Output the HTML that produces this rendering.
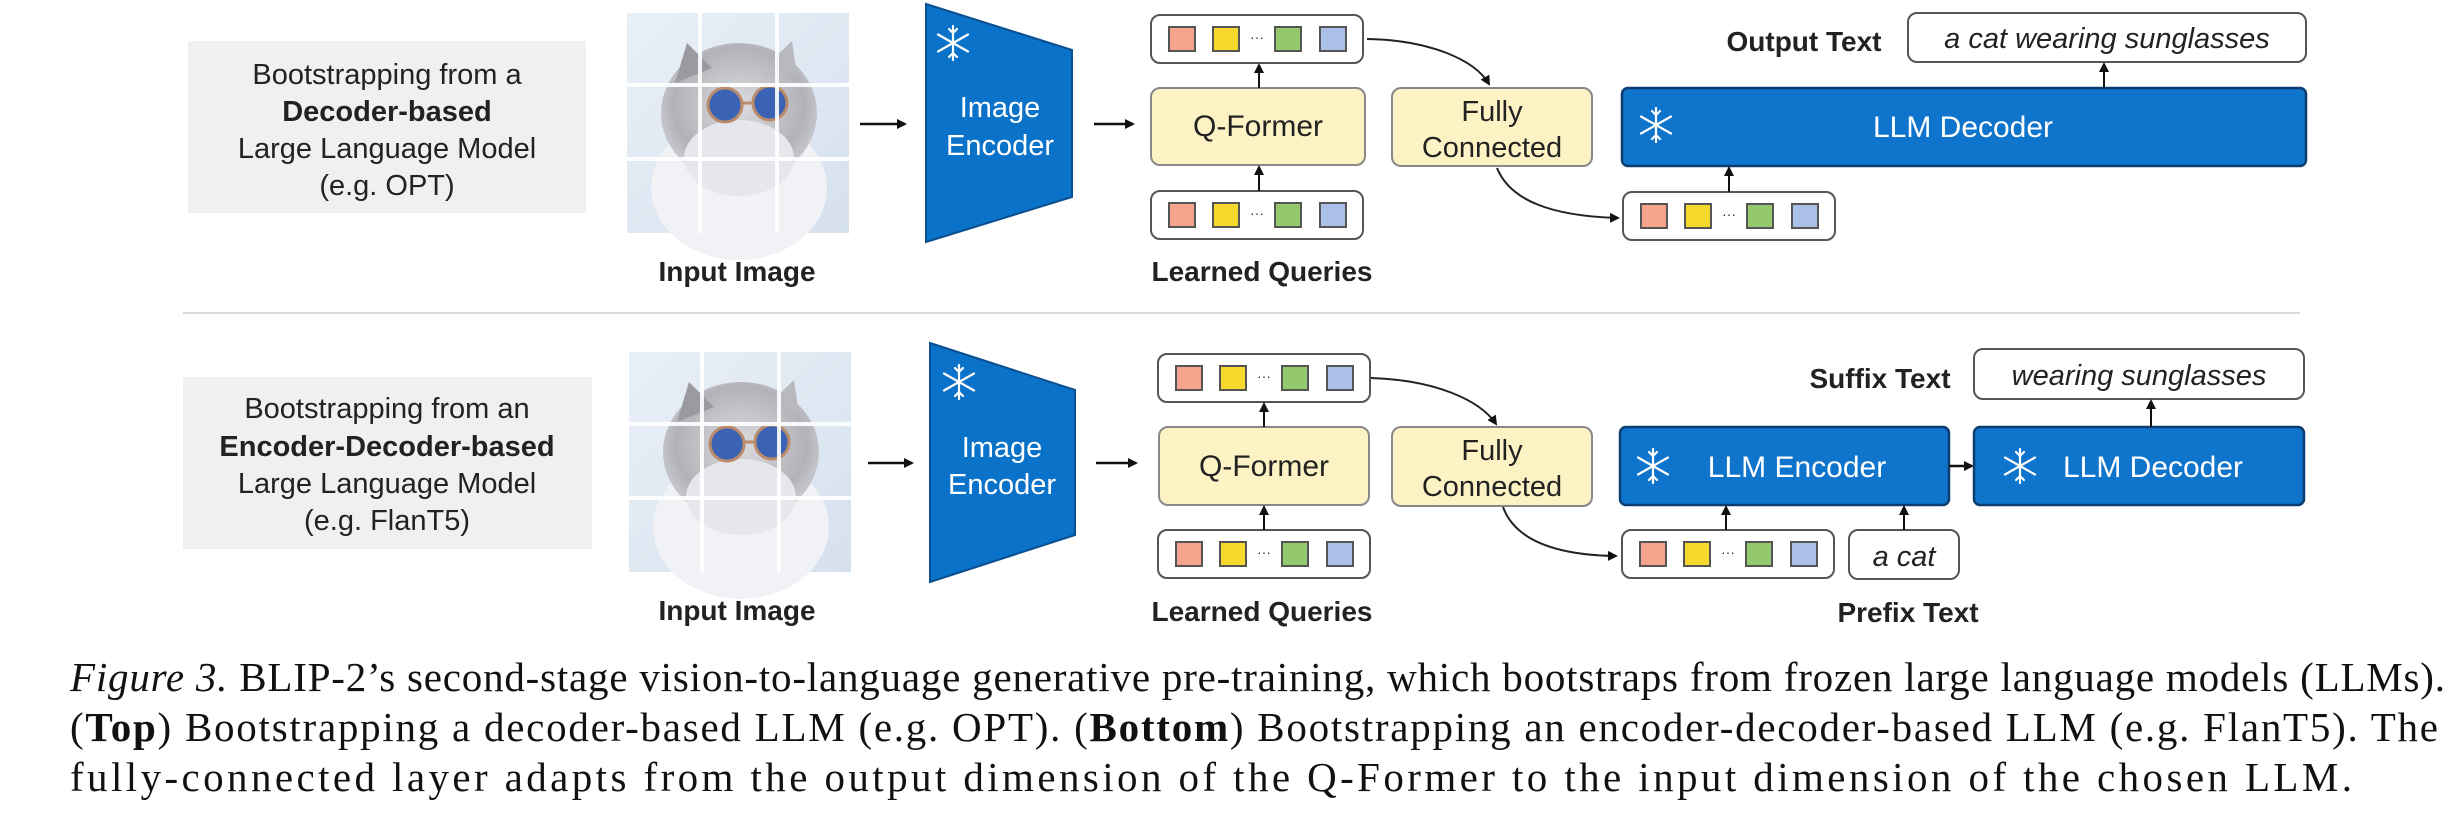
<!DOCTYPE html>
<html><head><meta charset="utf-8"><style>
html,body{margin:0;padding:0;background:#fff;width:2458px;height:836px;overflow:hidden}
svg{display:block}
.s{font-family:"Liberation Sans",Arial,sans-serif}
.r{font-family:"Liberation Serif","Times New Roman",serif}
</style></head><body>
<svg width="2458" height="836" viewBox="0 0 2458 836" xmlns="http://www.w3.org/2000/svg">
<defs>
<marker id="ah" markerWidth="10" markerHeight="10" refX="8" refY="5" orient="auto" markerUnits="userSpaceOnUse">
<path d="M0,0 L10,5 L0,10 z" fill="#111"/></marker>
<linearGradient id="bg" x1="0" y1="0" x2="1" y2="1"><stop offset="0" stop-color="#e9eff7"/><stop offset="1" stop-color="#d6e1ee"/></linearGradient>
<radialGradient id="fur" cx="0.5" cy="0.45" r="0.6"><stop offset="0" stop-color="#dcdce0"/><stop offset="0.7" stop-color="#b2b2b8"/><stop offset="1" stop-color="#d5d8de"/></radialGradient>
<g id="cat">
<rect x="0" y="0" width="222" height="220" fill="url(#bg)"/>
<ellipse cx="112" cy="175" rx="88" ry="72" fill="#f1f2f6"/>
<ellipse cx="112" cy="100" rx="78" ry="70" fill="url(#fur)"/>
<path d="M48 70 L60 30 L85 55 Z" fill="#9a9aa0"/>
<path d="M170 62 L165 28 L142 50 Z" fill="#b8b8be"/>
<ellipse cx="112" cy="145" rx="55" ry="38" fill="#e6e7ec"/>
<circle cx="98" cy="92" r="17" fill="#3b63b5" stroke="#b98b6a" stroke-width="3"/>
<circle cx="143" cy="90" r="17" fill="#3b63b5" stroke="#b98b6a" stroke-width="3"/>
<line x1="115" y1="90" x2="126" y2="90" stroke="#b98b6a" stroke-width="3"/>
<rect x="71" y="0" width="4" height="220" fill="#fff" opacity="0.9"/>
<rect x="148" y="0" width="4" height="220" fill="#fff" opacity="0.9"/>
<rect x="0" y="70" width="222" height="4" fill="#fff" opacity="0.9"/>
<rect x="0" y="144" width="222" height="4" fill="#fff" opacity="0.9"/>
</g>
<g id="tok">
<rect x="0" y="0" width="212" height="48" rx="9" fill="#fff" stroke="#555" stroke-width="2"/>
<rect x="18" y="12" width="26" height="24" fill="#f5a58e" stroke="#555" stroke-width="2"/>
<rect x="62" y="12" width="26" height="24" fill="#f6d92c" stroke="#555" stroke-width="2"/>
<text x="106" y="27" class="s" font-size="14" fill="#333" text-anchor="middle">···</text>
<rect x="124" y="12" width="26" height="24" fill="#94c86c" stroke="#555" stroke-width="2"/>
<rect x="169" y="12" width="26" height="24" fill="#abc0e8" stroke="#555" stroke-width="2"/>
</g>
<g id="snow" stroke="#fff" stroke-width="2.2" fill="none" stroke-linecap="round">
<line x1="0" y1="-17" x2="0" y2="17"/><line x1="-15" y1="-8.5" x2="15" y2="8.5"/><line x1="-15" y1="8.5" x2="15" y2="-8.5"/>
<path d="M-4,-14 L0,-10 L4,-14 M-4,14 L0,10 L4,14"/>
</g>
</defs>

<!-- ================= TOP ROW ================= -->
<rect x="188" y="41" width="398" height="172" fill="#f1f0f1"/>
<g class="s" font-size="29" fill="#222" text-anchor="middle">
<text x="387" y="84">Bootstrapping from a</text>
<text x="387" y="121" font-weight="bold">Decoder-based</text>
<text x="387" y="158">Large Language Model</text>
<text x="387" y="195">(e.g. OPT)</text>
</g>
<use href="#cat" x="627" y="13"/>
<text x="737" y="281" class="s" font-size="28" font-weight="bold" fill="#222" text-anchor="middle">Input Image</text>
<line x1="860" y1="124" x2="905" y2="124" stroke="#111" stroke-width="2.5" marker-end="url(#ah)"/>
<polygon points="926,4 1072,50 1072,197 926,242" fill="#0b72c9" stroke="#0a4f8f" stroke-width="2"/>
<use href="#snow" x="953" y="43"/>
<text x="1000" y="117" class="s" font-size="29" fill="#fff" text-anchor="middle">Image</text>
<text x="1000" y="155" class="s" font-size="29" fill="#fff" text-anchor="middle">Encoder</text>
<line x1="1094" y1="124" x2="1133" y2="124" stroke="#111" stroke-width="2.5" marker-end="url(#ah)"/>
<use href="#tok" x="1151" y="15"/>
<rect x="1151" y="88" width="214" height="77" rx="9" fill="#fcf2c4" stroke="#888" stroke-width="2"/>
<text x="1258" y="136" class="s" font-size="30" fill="#222" text-anchor="middle">Q-Former</text>
<use href="#tok" x="1151" y="191"/>
<line x1="1259" y1="88" x2="1259" y2="65" stroke="#111" stroke-width="2" marker-end="url(#ah)"/>
<line x1="1259" y1="191" x2="1259" y2="167" stroke="#111" stroke-width="2" marker-end="url(#ah)"/>
<text x="1262" y="281" class="s" font-size="28" font-weight="bold" fill="#222" text-anchor="middle">Learned Queries</text>
<rect x="1392" y="88" width="200" height="78" rx="9" fill="#fcf2c4" stroke="#888" stroke-width="2"/>
<text x="1492" y="121" class="s" font-size="29" fill="#222" text-anchor="middle">Fully</text>
<text x="1492" y="157" class="s" font-size="29" fill="#222" text-anchor="middle">Connected</text>
<path d="M1367,39 C1430,40 1475,60 1489,84" fill="none" stroke="#222" stroke-width="2" marker-end="url(#ah)"/>
<path d="M1497,168 C1510,200 1550,216 1618,218" fill="none" stroke="#222" stroke-width="2" marker-end="url(#ah)"/>
<rect x="1622" y="88" width="684" height="78" rx="6" fill="#0f74cc" stroke="#0b3d70" stroke-width="2.5"/>
<use href="#snow" x="1656" y="125"/>
<text x="1963" y="137" class="s" font-size="30" fill="#fff" text-anchor="middle">LLM Decoder</text>
<use href="#tok" x="1623" y="192"/>
<line x1="1729" y1="192" x2="1729" y2="168" stroke="#111" stroke-width="2" marker-end="url(#ah)"/>
<text x="1804" y="51" class="s" font-size="28" font-weight="bold" fill="#222" text-anchor="middle">Output Text</text>
<rect x="1908" y="13" width="398" height="49" rx="9" fill="#fff" stroke="#555" stroke-width="2"/>
<text x="2107" y="48" class="s" font-size="29" font-style="italic" fill="#222" text-anchor="middle">a cat wearing sunglasses</text>
<line x1="2104" y1="88" x2="2104" y2="64" stroke="#111" stroke-width="2" marker-end="url(#ah)"/>

<line x1="183" y1="313" x2="2300" y2="313" stroke="#ddd" stroke-width="2"/>

<!-- ================= BOTTOM ROW ================= -->
<rect x="183" y="377" width="409" height="172" fill="#f1f0f1"/>
<g class="s" font-size="29" fill="#222" text-anchor="middle">
<text x="387" y="418">Bootstrapping from an</text>
<text x="387" y="456" font-weight="bold">Encoder-Decoder-based</text>
<text x="387" y="493">Large Language Model</text>
<text x="387" y="530">(e.g. FlanT5)</text>
</g>
<use href="#cat" x="629" y="352"/>
<text x="737" y="620" class="s" font-size="28" font-weight="bold" fill="#222" text-anchor="middle">Input Image</text>
<line x1="868" y1="463" x2="912" y2="463" stroke="#111" stroke-width="2.5" marker-end="url(#ah)"/>
<polygon points="930,343 1075,390 1075,535 930,582" fill="#0b72c9" stroke="#0a4f8f" stroke-width="2"/>
<use href="#snow" x="959" y="382"/>
<text x="1002" y="457" class="s" font-size="29" fill="#fff" text-anchor="middle">Image</text>
<text x="1002" y="494" class="s" font-size="29" fill="#fff" text-anchor="middle">Encoder</text>
<line x1="1096" y1="463" x2="1136" y2="463" stroke="#111" stroke-width="2.5" marker-end="url(#ah)"/>
<use href="#tok" x="1158" y="354"/>
<rect x="1159" y="427" width="210" height="78" rx="9" fill="#fcf2c4" stroke="#888" stroke-width="2"/>
<text x="1264" y="476" class="s" font-size="30" fill="#222" text-anchor="middle">Q-Former</text>
<use href="#tok" x="1158" y="530"/>
<line x1="1264" y1="427" x2="1264" y2="404" stroke="#111" stroke-width="2" marker-end="url(#ah)"/>
<line x1="1264" y1="530" x2="1264" y2="507" stroke="#111" stroke-width="2" marker-end="url(#ah)"/>
<text x="1262" y="621" class="s" font-size="28" font-weight="bold" fill="#222" text-anchor="middle">Learned Queries</text>
<rect x="1392" y="427" width="200" height="79" rx="9" fill="#fcf2c4" stroke="#888" stroke-width="2"/>
<text x="1492" y="460" class="s" font-size="29" fill="#222" text-anchor="middle">Fully</text>
<text x="1492" y="496" class="s" font-size="29" fill="#222" text-anchor="middle">Connected</text>
<path d="M1371,378 C1435,380 1480,400 1496,424" fill="none" stroke="#222" stroke-width="2" marker-end="url(#ah)"/>
<path d="M1503,507 C1515,540 1555,555 1616,556" fill="none" stroke="#222" stroke-width="2" marker-end="url(#ah)"/>
<rect x="1620" y="427" width="329" height="78" rx="6" fill="#0f74cc" stroke="#0b3d70" stroke-width="2.5"/>
<use href="#snow" x="1653" y="466"/>
<text x="1797" y="477" class="s" font-size="30" fill="#fff" text-anchor="middle">LLM Encoder</text>
<line x1="1949" y1="466" x2="1972" y2="466" stroke="#111" stroke-width="2.5" marker-end="url(#ah)"/>
<rect x="1974" y="427" width="330" height="78" rx="6" fill="#0f74cc" stroke="#0b3d70" stroke-width="2.5"/>
<use href="#snow" x="2020" y="466"/>
<text x="2153" y="477" class="s" font-size="30" fill="#fff" text-anchor="middle">LLM Decoder</text>
<text x="1880" y="388" class="s" font-size="28" font-weight="bold" fill="#222" text-anchor="middle">Suffix Text</text>
<rect x="1974" y="349" width="330" height="50" rx="9" fill="#fff" stroke="#555" stroke-width="2"/>
<text x="2139" y="385" class="s" font-size="29" font-style="italic" fill="#222" text-anchor="middle">wearing sunglasses</text>
<line x1="2151" y1="427" x2="2151" y2="401" stroke="#111" stroke-width="2" marker-end="url(#ah)"/>
<use href="#tok" x="1622" y="530"/>
<rect x="1849" y="530" width="110" height="49" rx="9" fill="#fff" stroke="#555" stroke-width="2"/>
<text x="1904" y="566" class="s" font-size="29" font-style="italic" fill="#222" text-anchor="middle">a cat</text>
<line x1="1726" y1="530" x2="1726" y2="507" stroke="#111" stroke-width="2" marker-end="url(#ah)"/>
<line x1="1904" y1="530" x2="1904" y2="507" stroke="#111" stroke-width="2" marker-end="url(#ah)"/>
<text x="1908" y="622" class="s" font-size="28" font-weight="bold" fill="#222" text-anchor="middle">Prefix Text</text>

<!-- ================= CAPTION ================= -->
<g class="r" font-size="41" fill="#111">
<text x="70" y="691" textLength="2375" lengthAdjust="spacing"><tspan font-style="italic">Figure 3.</tspan> BLIP-2’s second-stage vision-to-language generative pre-training, which bootstraps from frozen large language models (LLMs).</text>
<text x="70" y="741" textLength="2368" lengthAdjust="spacing">(<tspan font-weight="bold">Top</tspan>) Bootstrapping a decoder-based LLM (e.g. OPT). (<tspan font-weight="bold">Bottom</tspan>) Bootstrapping an encoder-decoder-based LLM (e.g. FlanT5). The</text>
<text x="70" y="791" textLength="2282" lengthAdjust="spacing">fully-connected layer adapts from the output dimension of the Q-Former to the input dimension of the chosen LLM.</text>
</g>
</svg>
</body></html>
